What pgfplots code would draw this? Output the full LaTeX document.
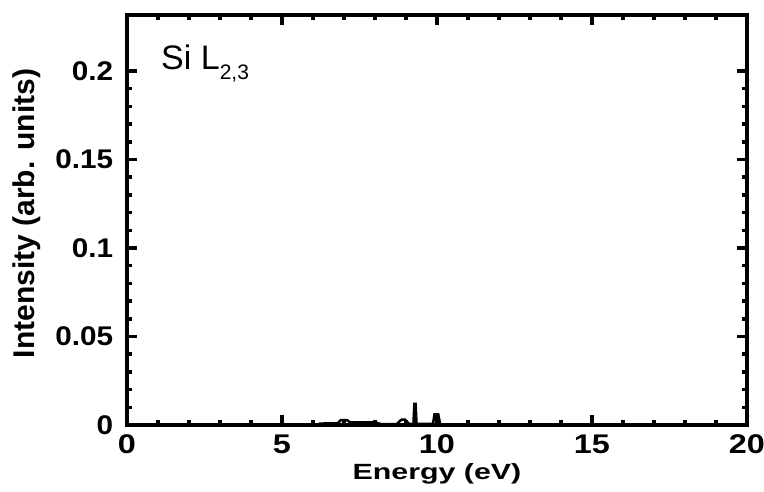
\documentclass[border=0pt]{standalone}
\usepackage{fontspec}
\setmainfont{Liberation Sans}
\usepackage{pgfplots}
\pgfplotsset{compat=1.18}

\begin{document}
\begin{tikzpicture}
\useasboundingbox (0,0) rectangle (764pt,491pt);
\begin{axis}[
    at={(127pt,66pt)}, anchor=south west,
    scale only axis,
    width=620pt, height=410pt,
    xmin=0, xmax=20,
    ymin=0, ymax=0.2316,
    xtick={0,5,10,15,20},
    xticklabels={0,5,10,15,20},
    ytick={0,0.05,0.1,0.15,0.2},
    yticklabels={0,0.05,0.1,0.15,0.2},
    /pgf/number format/assume math mode=true,
    minor x tick num=4,
    minor y tick num=4,
    tick align=inside,
    major tick length=10pt,
    minor tick length=5pt,
    every tick/.style={black, line width=3.5pt},
    axis line style={line width=4.5pt},
    tick label style={font=\fontsize{27}{27}\selectfont\bfseries},
    xticklabel style={xscale=1.2, yshift=-6pt},
    yticklabel style={xscale=1.1, xshift=-9pt},
    xlabel={Energy (eV)},
    ylabel={Intensity (arb. units)},
    xlabel style={at={(rel axis cs:0.5,0)}, anchor=base, yshift=-54pt,
        font=\fontsize{22}{22}\selectfont\bfseries, xscale=1.38},
    ylabel style={at={(rel axis cs:-0.1484,0.516)}, anchor=base,
        font=\fontsize{30}{30}\selectfont\bfseries},
    clip=false,
]
\addplot[black, line width=2.5pt] coordinates {
    (6.2,0.0008) (6.8,0.001) (6.9,0.0028) (7.1,0.0028) (7.2,0.0014)
    (7.4,0.0015) (8.0,0.0015) (8.2,0.0005) (8.7,0.0005) (8.85,0.003)
    (8.97,0.003) (9.1,0.0006) (9.24,0.0006) (9.27,0.012) (9.31,0.012)
    (9.34,0.0006) (9.87,0.0006) (9.92,0.006) (10.04,0.006) (10.1,0.0006)
};
\node[anchor=base west, inner sep=0, font=\fontsize{34}{34}\selectfont]
    at (rel axis cs:0.0548,0.866) {Si L\raisebox{-10pt}{\fontsize{21}{21}\selectfont 2,3}};
\end{axis}
\end{tikzpicture}
\end{document}
